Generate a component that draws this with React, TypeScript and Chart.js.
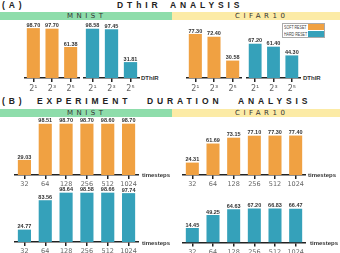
import React, { useEffect, useRef } from "react";
import { Chart, registerables } from "chart.js";
Chart.register(...registerables);

// ---- data ----
const dthirLabels = ["2¹", "2³", "2⁵"];
const mnistDthirSoft = [98.7, 97.7, 61.38];
const mnistDthirHard = [98.58, 97.45, 31.81];
const cifarDthirSoft = [77.3, 72.4, 30.58];
const cifarDthirHard = [67.2, 61.4, 44.3];

const timestepLabels = ["32", "64", "128", "256", "512", "1024"];
const mnistTimeSoft = [29.03, 98.51, 98.7, 98.7, 98.6, 98.7];
const mnistTimeHard = [24.77, 83.56, 98.64, 98.58, 98.66, 97.74];
const cifarTimeSoft = [24.31, 61.69, 73.15, 77.1, 77.3, 77.4];
const cifarTimeHard = [14.45, 49.25, 64.63, 67.2, 66.83, 66.47];

const seriesNames = ["SOFT RESET", "HARD RESET"];
const SOFT = "#F0A142";
const HARD = "#35A1BA";

const valueLabels = {
  id: "valueLabels",
  afterDatasetsDraw(chart: any) {
    const ctx = chart.ctx;
    ctx.save();
    ctx.font = "bold 5.5px 'Liberation Sans', Arial, sans-serif";
    ctx.fillStyle = "#333";
    ctx.textAlign = "center";
    ctx.textBaseline = "alphabetic";
    chart.data.datasets.forEach((ds: any, i: number) => {
      chart.getDatasetMeta(i).data.forEach((bar: any, j: number) => {
        ctx.fillText(Number(ds.data[j]).toFixed(2), bar.x, bar.y - 1.3);
      });
    });
    ctx.restore();
  },
};

type PanelProps = {
  left: number;
  top: number;
  width: number;
  axisY: number;
  labels: string[];
  values: number[];
  color: string;
  name: string;
  pxPerUnit: number;
  base: number;
  tickFont: number;
  tickPad: number;
  barPct: number;
};

function BarPanel(p: PanelProps) {
  const ref = useRef<HTMLCanvasElement | null>(null);
  const xh = 4 + 2 * p.tickPad + p.tickFont * 1.2;
  const plotH = p.axisY - p.top;
  const height = Math.ceil(plotH + xh);
  const padBottom = height - plotH - xh;
  useEffect(() => {
    if (!ref.current) return;
    const chart = new Chart(ref.current, {
      type: "bar",
      data: {
        labels: p.labels,
        datasets: [
          {
            label: p.name,
            data: p.values,
            backgroundColor: p.color,
            barPercentage: p.barPct,
            categoryPercentage: 1,
            base: p.base,
          } as any,
        ],
      },
      options: {
        responsive: false,
        animation: false,
        devicePixelRatio: 1,
        layout: { padding: { left: 0, right: 0, top: 0, bottom: padBottom } },
        plugins: { legend: { display: false }, tooltip: { enabled: false } },
        scales: {
          x: {
            grid: {
              display: true,
              drawOnChartArea: false,
              drawTicks: true,
              tickLength: 4,
              color: "#222",
              lineWidth: 1.5,
              offset: false,
            },
            border: { display: true, color: "#222", width: 1.5 },
            ticks: {
              font: { family: "'DejaVu Sans', sans-serif", size: p.tickFont },
              color: "#666",
              padding: p.tickPad,
              autoSkip: false,
              maxRotation: 0,
            },
          },
          y: { display: false, min: p.base, max: p.base + plotH / p.pxPerUnit },
        },
      } as any,
      plugins: [valueLabels],
    });
    return () => chart.destroy();
  }, []);
  return (
    <canvas
      ref={ref}
      width={p.width}
      height={height}
      style={{ position: "absolute", left: p.left, top: p.top, width: p.width, height }}
    />
  );
}

const titleFont: React.CSSProperties = {
  position: "absolute",
  fontFamily: "'Liberation Sans', Arial, sans-serif",
  fontWeight: "bold",
  fontSize: 8.5,
  lineHeight: "8.5px",
  letterSpacing: 3.9,
  color: "#222",
  whiteSpace: "nowrap",
};

const bandText: React.CSSProperties = {
  position: "absolute",
  fontFamily: "'DejaVu Sans', sans-serif",
  fontSize: 7,
  lineHeight: "8px",
  letterSpacing: 3.5,
  color: "#333",
  whiteSpace: "nowrap",
  top: 0,
};

const axisTitle: React.CSSProperties = {
  position: "absolute",
  fontFamily: "'Liberation Sans', Arial, sans-serif",
  fontWeight: "bold",
  fontSize: 6,
  lineHeight: "6px",
  color: "#333",
  whiteSpace: "nowrap",
};

function Band({ top }: { top: number }) {
  return (
    <>
      <div style={{ position: "absolute", left: 0, top, width: 172, height: 8, background: "#8EDDAB" }}>
        <span style={{ ...bandText, left: 67 }}>MNIST</span>
      </div>
      <div style={{ position: "absolute", left: 172, top, width: 168, height: 8, background: "#FCEBA6" }}>
        <span style={{ ...bandText, left: 63 }}>CIFAR10</span>
      </div>
    </>
  );
}

export default function App() {
  const A = { tickFont: 8, tickPad: 2, barPct: 0.7, base: 0 };
  const B = { tickFont: 6.5, tickPad: 1.5, barPct: 0.63 };
  return (
    <div
      style={{
        position: "fixed",
        left: 0,
        top: 0,
        width: 340,
        height: 253,
        background: "#fff",
        overflow: "hidden",
      }}
    >
      <span style={{ ...titleFont, left: 2, top: 1.4 }}>(A)</span>
      <span style={{ ...titleFont, left: 117, top: 1.4 }}>DThIR</span>
      <span style={{ ...titleFont, left: 170, top: 1.4 }}>ANALYSIS</span>
      <Band top={12} />

      <BarPanel {...A} left={24} top={20} width={56} axisY={78} labels={dthirLabels} values={mnistDthirSoft} color={SOFT} name={seriesNames[0]} pxPerUnit={0.505} />
      <BarPanel {...A} left={83} top={20} width={57} axisY={78} labels={dthirLabels} values={mnistDthirHard} color={HARD} name={seriesNames[1]} pxPerUnit={0.5} />
      <BarPanel {...A} left={186} top={20} width={56} axisY={78} labels={dthirLabels} values={cifarDthirSoft} color={SOFT} name={seriesNames[0]} pxPerUnit={0.57} />
      <BarPanel {...A} left={246} top={20} width={55} axisY={78} labels={dthirLabels} values={cifarDthirHard} color={HARD} name={seriesNames[1]} pxPerUnit={0.51} />
      <span style={{ ...axisTitle, left: 141, top: 74.5 }}>DThIR</span>
      <span style={{ ...axisTitle, left: 303, top: 74.5 }}>DThIR</span>

      <div
        style={{
          position: "absolute",
          left: 282,
          top: 22.5,
          width: 43,
          height: 15,
          boxSizing: "border-box",
          border: "1px solid #aaa",
          background: "#fff",
        }}
      >
        {seriesNames.map((n, i) => (
          <div key={n} style={{ position: "absolute", left: 0, top: i * 7, width: 41, height: 6.5 }}>
            <span
              style={{
                position: "absolute",
                left: 1,
                top: 0,
                fontFamily: "'Liberation Sans', Arial, sans-serif",
                fontSize: 6.2,
                lineHeight: "6.5px",
                color: "#444",
                whiteSpace: "nowrap",
                transform: "scaleX(0.58)",
                transformOrigin: "0 0",
              }}
            >
              {n}
            </span>
            <div style={{ position: "absolute", left: 25, top: 0.5, width: 16, height: 5.8, background: i === 0 ? SOFT : HARD }} />
          </div>
        ))}
      </div>

      <span style={{ ...titleFont, left: 2, top: 97 }}>(B)</span>
      <span style={{ ...titleFont, left: 37, top: 97 }}>EXPERIMENT</span>
      <span style={{ ...titleFont, left: 147, top: 97 }}>DURATION</span>
      <span style={{ ...titleFont, left: 238, top: 97 }}>ANALYSIS</span>
      <Band top={109} />

      <BarPanel {...B} base={0} left={14} top={117} width={125} axisY={175} labels={timestepLabels} values={mnistTimeSoft} color={SOFT} name={seriesNames[0]} pxPerUnit={0.52} />
      <BarPanel {...B} base={0} left={182} top={117} width={124} axisY={175} labels={timestepLabels} values={cifarTimeSoft} color={SOFT} name={seriesNames[0]} pxPerUnit={0.51} />
      <BarPanel {...B} base={0} left={14} top={186} width={125} axisY={242} labels={timestepLabels} values={mnistTimeHard} color={HARD} name={seriesNames[1]} pxPerUnit={0.5} />
      <BarPanel {...B} base={-25} left={182} top={186} width={124} axisY={242.5} labels={timestepLabels} values={cifarTimeHard} color={HARD} name={seriesNames[1]} pxPerUnit={0.37} />
      <span style={{ ...axisTitle, left: 142, top: 172 }}>timesteps</span>
      <span style={{ ...axisTitle, left: 308, top: 172 }}>timesteps</span>
      <span style={{ ...axisTitle, left: 142, top: 239.5 }}>timesteps</span>
      <span style={{ ...axisTitle, left: 310, top: 239.5 }}>timesteps</span>
    </div>
  );
}
